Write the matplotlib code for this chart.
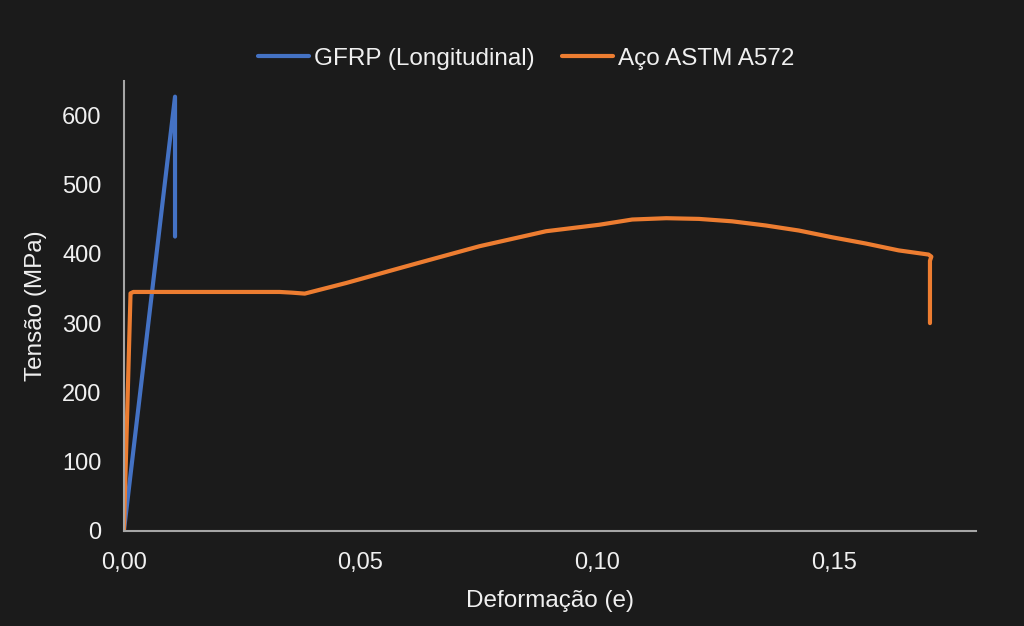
import numpy as np
import matplotlib.pyplot as plt

# GFRP (Longitudinal)
gfrp_strain = [0.0, 0.0108, 0.0108]
gfrp_stress = [0, 627, 425]

# Aco ASTM A572
steel_strain = [0.0, 0.0014, 0.0020, 0.0329, 0.0355, 0.0382, 0.0470, 0.0610, 0.0751,
                0.0892, 0.1004, 0.1074, 0.1146, 0.1215, 0.1285, 0.1356, 0.1426, 0.1496,
                0.1567, 0.1637, 0.1700, 0.1706, 0.1703, 0.1703]
steel_stress = [0, 343, 345, 345, 344, 342.6, 358, 384.6, 411,
                432.7, 442, 449.6, 451.5, 450.5, 447, 441, 433.7, 424,
                415, 405, 399, 396, 390, 300]

bg = '#1b1b1b'
txt = '#f0f0f0'
fnt = 'Liberation Sans'

fig = plt.figure(figsize=(10.24, 6.26), dpi=100, facecolor=bg)
ax = fig.add_axes([0.121, 0.152, 0.832, 0.719], facecolor=bg)

ax.plot(gfrp_strain, gfrp_stress, color='#4472C4', lw=3, label='GFRP (Longitudinal)',
        solid_capstyle='round', solid_joinstyle='round')
ax.plot(steel_strain, steel_stress, color='#ED7D31', lw=3, label='Aço ASTM A572',
        solid_capstyle='round', solid_joinstyle='round')

ax.set_xlim(0, 0.18)
ax.set_ylim(0, 650)
ax.set_xticks([0, 0.05, 0.10, 0.15])
ax.set_xticklabels(['0,00', '0,05', '0,10', '0,15'])
ax.set_yticks(range(0, 700, 100))

for s in ['top', 'right']:
    ax.spines[s].set_visible(False)
for s in ['left', 'bottom']:
    ax.spines[s].set_color('#a6a6a6')
    ax.spines[s].set_linewidth(1.5)
ax.tick_params(length=0, labelsize=17, colors=txt)
ax.tick_params(axis='x', pad=15)
ax.tick_params(axis='y', pad=16)
for lab in ax.get_xticklabels() + ax.get_yticklabels():
    lab.set_family(fnt)

ax.set_xlabel('Deformação (e)', fontsize=17.5, color=txt, family=fnt)
ax.set_ylabel('Tensão (MPa)', fontsize=17.5, color=txt, family=fnt)
ax.xaxis.label.set_va('center')
ax.yaxis.label.set_va('center')
ax.xaxis.set_label_coords(0.5, -0.155)
ax.yaxis.set_label_coords(-0.1035, 0.5)

leg = fig.legend(loc='center', bbox_to_anchor=(0.514, 0.906), ncol=2, frameon=False,
                 prop={'family': fnt, 'size': 17.5}, handlelength=2.1,
                 handletextpad=0.2, columnspacing=1.15)
for t in leg.get_texts():
    t.set_color(txt)

fig.savefig('out.png', dpi=100, facecolor=bg)
